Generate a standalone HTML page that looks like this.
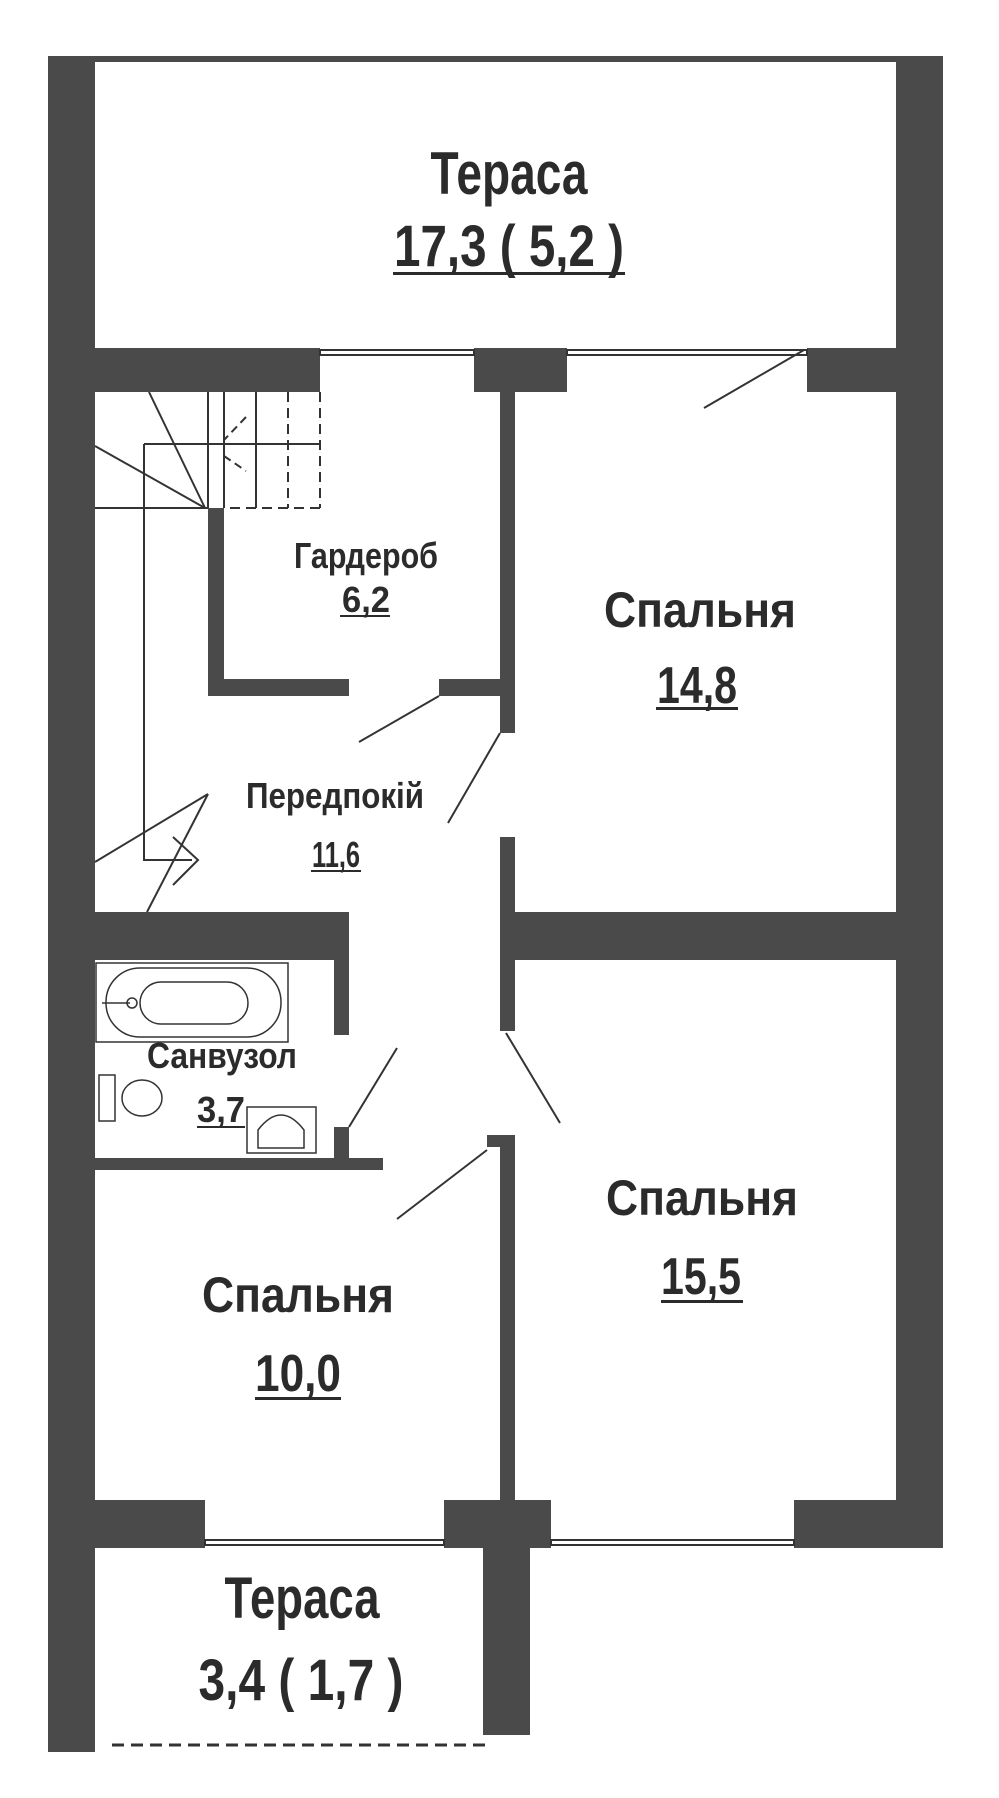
<!DOCTYPE html>
<html><head><meta charset="utf-8"><style>
html,body{margin:0;padding:0;background:#fff;}
svg{display:block}
text{font-family:"Liberation Sans Narrow","Liberation Sans",sans-serif;font-weight:bold;fill:#2b2b2b;text-anchor:middle}
</style></head><body>
<svg width="999" height="1798" viewBox="0 0 999 1798" xmlns="http://www.w3.org/2000/svg">
<g fill="#4a4a4a">
<rect x="48" y="56" width="47" height="1696"/>
<rect x="896" y="56" width="47" height="1492"/>
<rect x="95" y="56" width="801" height="6"/>
<rect x="95" y="348" width="225" height="44"/>
<rect x="474" y="348" width="93" height="44"/>
<rect x="807" y="348" width="89" height="44"/>
<rect x="208" y="508" width="16" height="188"/>
<rect x="208" y="679" width="141" height="17"/>
<rect x="439" y="679" width="76" height="17"/>
<rect x="500" y="392" width="15" height="341"/>
<rect x="500" y="837" width="15" height="194"/>
<rect x="515" y="912" width="381" height="48"/>
<rect x="95" y="912" width="254" height="48"/>
<rect x="334" y="912" width="15" height="123"/>
<rect x="334" y="1127" width="15" height="40"/>
<rect x="95" y="1158" width="288" height="12"/>
<rect x="487" y="1135" width="28" height="12"/>
<rect x="500" y="1135" width="15" height="413"/>
<rect x="95" y="1500" width="110" height="48"/>
<rect x="444" y="1500" width="107" height="48"/>
<rect x="794" y="1500" width="102" height="48"/>
<rect x="483" y="1548" width="47" height="187"/>
</g>
<g fill="none" stroke="#333" stroke-width="2">
<rect x="320" y="350" width="154" height="5"/>
<rect x="567" y="350" width="240" height="5"/>
<rect x="205" y="1540" width="239" height="5"/>
<rect x="551" y="1540" width="243" height="5"/>
<line x1="208" y1="392" x2="208" y2="508"/>
<line x1="224" y1="392" x2="224" y2="508"/>
<line x1="95" y1="508" x2="208" y2="508"/>
<line x1="144" y1="444" x2="320" y2="444"/>
<polyline points="144,444 144,860 192,860"/>
<line x1="149" y1="392" x2="205" y2="508"/>
<line x1="95" y1="446" x2="205" y2="508"/>
<line x1="256" y1="392" x2="256" y2="508"/>
<line x1="288" y1="392" x2="288" y2="508" stroke-dasharray="10,6"/>
<line x1="320" y1="392" x2="320" y2="508" stroke-dasharray="10,6"/>
<line x1="230" y1="508" x2="320" y2="508" stroke-dasharray="10,6"/>
<line x1="246" y1="417" x2="224" y2="440" stroke-dasharray="8,5"/>
<line x1="224" y1="456" x2="246" y2="471" stroke-dasharray="8,5"/>
<line x1="95" y1="862" x2="208" y2="794"/>
<line x1="208" y1="794" x2="147" y2="912"/>
<polyline points="173,837 198,860 173,885"/>
<line x1="804" y1="350" x2="704" y2="408"/>
<line x1="439" y1="696" x2="359" y2="742"/>
<line x1="500" y1="733" x2="448" y2="823"/>
<line x1="506" y1="1033" x2="560" y2="1123"/>
<line x1="349" y1="1127" x2="397" y2="1048"/>
<line x1="487" y1="1150" x2="397" y2="1219"/>
<rect x="96" y="963" width="192" height="79" stroke-width="1.5"/>
<rect x="106" y="968" width="175" height="69" rx="34" stroke-width="1.5"/>
<rect x="140" y="982" width="108" height="42" rx="21" stroke-width="1.5"/>
<circle cx="132" cy="1003" r="5" stroke-width="1.5"/>
<line x1="102" y1="1003" x2="130" y2="1003" stroke-width="1.5"/>
<rect x="99" y="1075" width="16" height="46" stroke-width="1.5"/>
<ellipse cx="142" cy="1098" rx="20" ry="18" stroke-width="1.5"/>
<rect x="247" y="1107" width="69" height="46" stroke-width="1.5"/>
<path d="M258,1148 V1130 Q281,1100 304,1130 V1148 Z" stroke-width="1.5"/>
<line x1="112" y1="1745" x2="490" y2="1745" stroke-dasharray="12,7" stroke-width="3"/>
</g>
<g fill="#2b2b2b">
<rect x="393" y="272" width="232" height="3"/>
<rect x="340" y="615" width="50" height="2"/>
<rect x="656" y="707" width="82" height="3"/>
<rect x="311" y="870" width="50" height="2"/>
<rect x="197" y="1126" width="48" height="2"/>
<rect x="661" y="1300" width="82" height="3"/>
<rect x="255" y="1397" width="86" height="3"/>
</g>
<text x="509" y="194" font-size="60" textLength="157" lengthAdjust="spacingAndGlyphs">Тераса</text>
<text x="509" y="266" font-size="58" textLength="230" lengthAdjust="spacingAndGlyphs">17,3 ( 5,2 )</text>
<text x="366" y="568" font-size="36" textLength="144" lengthAdjust="spacingAndGlyphs">Гардероб</text>
<text x="366" y="612" font-size="36" textLength="48" lengthAdjust="spacingAndGlyphs">6,2</text>
<text x="700" y="627" font-size="50" textLength="192" lengthAdjust="spacingAndGlyphs">Спальня</text>
<text x="697" y="703" font-size="52" textLength="80" lengthAdjust="spacingAndGlyphs">14,8</text>
<text x="335" y="808" font-size="36" textLength="178" lengthAdjust="spacingAndGlyphs">Передпокій</text>
<text x="336" y="867" font-size="36" textLength="48" lengthAdjust="spacingAndGlyphs">11,6</text>
<text x="222" y="1068" font-size="36" textLength="150" lengthAdjust="spacingAndGlyphs">Санвузол</text>
<text x="221" y="1122" font-size="36" textLength="48" lengthAdjust="spacingAndGlyphs">3,7</text>
<text x="702" y="1215" font-size="50" textLength="192" lengthAdjust="spacingAndGlyphs">Спальня</text>
<text x="701" y="1294" font-size="52" textLength="80" lengthAdjust="spacingAndGlyphs">15,5</text>
<text x="298" y="1312" font-size="50" textLength="192" lengthAdjust="spacingAndGlyphs">Спальня</text>
<text x="298" y="1391" font-size="52" textLength="86" lengthAdjust="spacingAndGlyphs">10,0</text>
<text x="302" y="1618" font-size="58" textLength="155" lengthAdjust="spacingAndGlyphs">Тераса</text>
<text x="301" y="1700" font-size="58" textLength="205" lengthAdjust="spacingAndGlyphs">3,4 ( 1,7 )</text>
</svg>
</body></html>
